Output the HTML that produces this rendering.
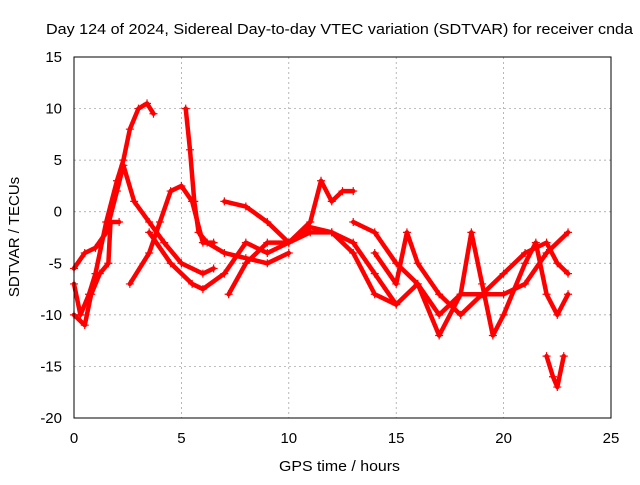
<!DOCTYPE html>
<html><head><meta charset="utf-8"><style>
body{margin:0;background:#fff}
svg text{font-family:"Liberation Sans",sans-serif;font-size:15px;fill:#000}
</style></head><body>
<svg width="640" height="480" id="chart">
<rect width="640" height="480" fill="#fff"/>
<text x="46" y="34" textLength="587" lengthAdjust="spacingAndGlyphs">Day 124 of 2024, Sidereal Day-to-day VTEC variation (SDTVAR) for receiver cnda</text>
<text x="279" y="471" textLength="121" lengthAdjust="spacingAndGlyphs">GPS time / hours</text>
<text transform="translate(19,237) rotate(-90)" text-anchor="middle">SDTVAR / TECUs</text>
<g id="grid"></g><g id="marks"></g>
<rect x="74" y="57" width="537" height="361" fill="none" stroke="#000"/>
</svg>
<script>
const xTicks=[0,5,10,15,20,25];
const yTicks=[15,10,5,0,-5,-10,-15,-20];
const trackA=[[0,-7],[0.3,-10],[0.7,-8],[1,-6],[1.5,-1],[2,3],[2.3,5],[2.6,8],[3,10],[3.4,10.5],[3.7,9.5]];
const trackB=[[0,-5.5],[0.5,-4],[1,-3.5],[1.5,-2],[2,2],[2.3,4.5],[2.8,1],[3.5,-1],[4.2,-3],[5,-5],[6,-6],[6.5,-5.5]];
const trackC=[[0,-10],[0.5,-11],[0.8,-8],[1.2,-6],[1.6,-5],[1.7,-1],[2.1,-1]];
const trackD=[[2.6,-7],[3.5,-4],[4,-1],[4.5,2],[5,2.5],[5.5,1],[6,-3],[6.5,-3]];
const trackE=[[5.2,10],[5.4,6],[5.6,1],[5.8,-2],[6.2,-3],[7,-4],[8,-4.5],[9,-5],[10,-4]];
const trackF=[[3.5,-2],[4.5,-5],[5.5,-7],[6,-7.5],[7,-6],[8,-3],[9,-4],[10,-3],[11,-2],[12,-2],[13,-4],[14,-8],[15,-9]];
const trackG=[[7,1],[8,0.5],[9,-1],[10,-3],[11,-1],[11.5,3],[12,1],[12.5,2],[13,2]];
const trackH=[[7.2,-8],[8,-5],[9,-3],[10,-3],[11,-1.5],[12,-2],[13,-3],[14,-6],[15,-9],[16,-7],[17,-10],[18,-8],[19,-8],[20,-6],[21,-4],[22,-3],[22.5,-5],[23,-6]];
const trackI=[[13,-1],[14,-2],[15,-5],[16,-7],[17,-12],[18,-8],[18.5,-2],[19,-7],[19.5,-12],[20,-10],[21,-5],[21.5,-3],[22,-8],[22.5,-10],[23,-8]];
const trackJ=[[14,-4],[15,-7],[15.5,-2],[16,-5],[17,-8],[18,-10],[19,-8],[20,-8],[21,-7],[22,-4],[23,-2]];
const trackK=[[22,-14],[22.3,-16],[22.5,-17],[22.8,-14]];
const tracks=[trackA,trackB,trackC,trackD,trackE,trackF,trackG,trackH,trackI,trackJ,trackK];
const NS="http://www.w3.org/2000/svg";
const X=v=>74+v*537/25, Y=v=>57+(15-v)*361/35;
const grid=document.getElementById('grid'), marks=document.getElementById('marks');
function mk(t,a,p){const e=document.createElementNS(NS,t);for(const k in a)e.setAttribute(k,a[k]);p.appendChild(e);return e;}
xTicks.forEach(v=>{
 const l=mk('line',{x1:X(v),x2:X(v),y1:57,y2:418,stroke:'#999','stroke-dasharray':'2,3','stroke-width':0.7},grid);
 
 
 const t=mk('text',{x:X(v),y:443,'text-anchor':'middle'},grid);t.textContent=v;
 
 
});
yTicks.forEach(v=>{
 const l=mk('line',{x1:74,x2:611,y1:Y(v),y2:Y(v),stroke:'#999','stroke-dasharray':'2,3','stroke-width':0.7},grid);
 
 
 const t=mk('text',{x:62,y:Y(v)+5,'text-anchor':'end'},grid);t.textContent=v;
 
 
});
tracks.forEach(tr=>{
 const p=mk('polyline',{points:tr.map(d=>X(d[0])+','+Y(d[1])).join(' '),fill:'none',stroke:'#f00','stroke-width':4.5,'stroke-linejoin':'round','stroke-linecap':'round'},marks);
 
 
 tr.forEach(d=>{
  const m=mk('path',{d:`M${X(d[0])-4},${Y(d[1])}h8M${X(d[0])},${Y(d[1])-4}v8`,stroke:'#f00','stroke-width':1.2},marks);
  
  
 });
});
</script>
</body></html>
